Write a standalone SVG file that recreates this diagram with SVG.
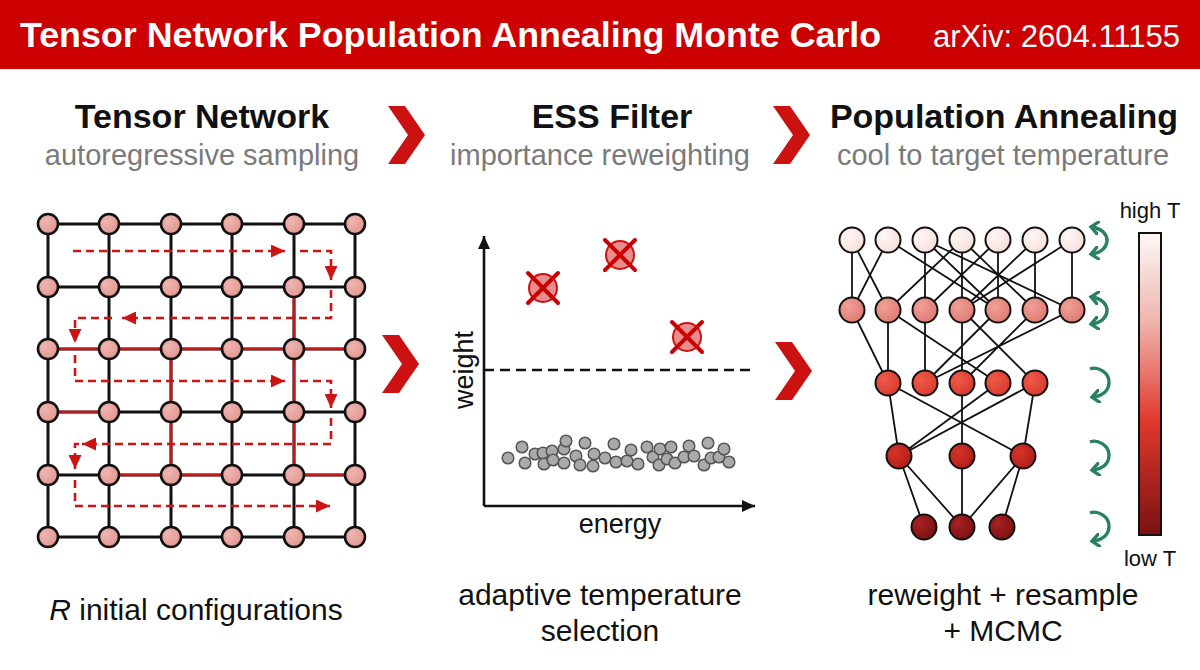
<svg xmlns="http://www.w3.org/2000/svg" width="1200" height="670" viewBox="0 0 1200 670">
<defs>
<style>
.title{font-family:"Liberation Sans",Arial,sans-serif;font-weight:bold;fill:#fff}
.arx{font-family:"Liberation Sans",Arial,sans-serif;fill:#fff}
.head{font-family:"Liberation Sans",Arial,sans-serif;font-weight:bold;fill:#111;font-size:34px;text-anchor:middle}
.sub{font-family:"Liberation Sans",Arial,sans-serif;fill:#7a7a7a;font-size:29px;text-anchor:middle}
.lbl{font-family:"Liberation Sans",Arial,sans-serif;fill:#111;font-size:30px;text-anchor:middle}
.ax{font-family:"Liberation Sans",Arial,sans-serif;fill:#111;font-size:27px;text-anchor:middle}
.ct{font-family:"Liberation Sans",Arial,sans-serif;fill:#111;font-size:22px;text-anchor:middle}
.gl{stroke:#111;stroke-width:3;fill:none}
.rl{stroke:#c41818;stroke-width:2.6;fill:none}
.gn{fill:url(#gnode);stroke:#111;stroke-width:2.6}
.dash{stroke:#cc1414;stroke-width:2.6;fill:none;stroke-dasharray:8 5;marker-end:url(#ra)}
.te{stroke:#111;stroke-width:1.8;fill:none}
.tn{stroke:#111;stroke-width:2}
.dot{fill:#aaa;stroke:#555;stroke-width:1.5}
.xc{fill:#e98d8d;stroke:#cc1111;stroke-width:2}
.xx{stroke:#cc0000;stroke-width:4;stroke-linecap:round}
.grn{stroke:#2a8062;stroke-width:3.4;fill:none}
.chev{fill:#cc1111}
</style>
<radialGradient id="gnode" cx="0.35" cy="0.35" r="0.7"><stop offset="0" stop-color="#f0b5b0"/><stop offset="1" stop-color="#e29790"/></radialGradient>
<radialGradient id="g0" cx="0.35" cy="0.35" r="0.7"><stop offset="0" stop-color="#fef7f5"/><stop offset="1" stop-color="#f6e0db"/></radialGradient>
<radialGradient id="g1" cx="0.35" cy="0.35" r="0.7"><stop offset="0" stop-color="#f0a098"/><stop offset="1" stop-color="#e07a72"/></radialGradient>
<radialGradient id="g2" cx="0.35" cy="0.35" r="0.7"><stop offset="0" stop-color="#ef5a48"/><stop offset="1" stop-color="#d93a2e"/></radialGradient>
<radialGradient id="g3" cx="0.35" cy="0.35" r="0.7"><stop offset="0" stop-color="#d43428"/><stop offset="1" stop-color="#b31d18"/></radialGradient>
<radialGradient id="g4" cx="0.35" cy="0.35" r="0.7"><stop offset="0" stop-color="#a82222"/><stop offset="1" stop-color="#7c1111"/></radialGradient>
<linearGradient id="cbar" x1="0" y1="0" x2="0" y2="1"><stop offset="0" stop-color="#fdf8f7"/><stop offset="0.3" stop-color="#eeb3ab"/><stop offset="0.62" stop-color="#e2392e"/><stop offset="1" stop-color="#791111"/></linearGradient>
<marker id="ra" markerUnits="userSpaceOnUse" markerWidth="15" markerHeight="13" refX="14" refY="6.5" orient="auto"><path d="M0,0 L14,6.5 L0,13 z" fill="#cc1414"/></marker>
<marker id="ka" markerUnits="userSpaceOnUse" markerWidth="14" markerHeight="12" refX="13" refY="6" orient="auto"><path d="M0,0 L13,6 L0,12 z" fill="#111"/></marker>
<marker id="ga" markerUnits="userSpaceOnUse" markerWidth="12" markerHeight="14" refX="7" refY="7" orient="auto-start-reverse"><path d="M0,0 L8,7 L0,14" fill="none" stroke="#2a8062" stroke-width="3.4"/></marker>
<path id="chv" d="M0,0 H17 L37,29 L17,58 H0 L20,29 Z"/>
</defs>
<rect width="1200" height="670" fill="#fff"/>
<g id="header">
<rect x="0" y="0" width="1200" height="69" fill="#cc0000"/>
<text class="title" x="20" y="47" font-size="35.8">Tensor Network Population Annealing Monte Carlo</text>
<text class="arx" x="1180" y="47" font-size="31" text-anchor="end">arXiv: 2604.11155</text>
</g>
<g id="headings">
<text class="head" x="202" y="128">Tensor Network</text>
<text class="sub" x="202" y="165">autoregressive sampling</text>
<text class="head" x="612" y="128">ESS Filter</text>
<text class="sub" x="600" y="165">importance reweighting</text>
<text class="head" x="1004" y="128">Population Annealing</text>
<text class="sub" x="1003" y="165">cool to target temperature</text>
<use href="#chv" class="chev" x="388" y="106"/>
<use href="#chv" class="chev" x="773" y="106"/>
<use href="#chv" class="chev" x="382" y="335"/>
<use href="#chv" class="chev" x="775" y="342"/>
</g>
<g id="connectors">
<g id="grid-lines">
<path class="gl" d="M48,224H355M48,287H355M48,349H355M48,412H355M48,475H355M48,537H355M48,224V537M109,224V537M171,224V537M232,224V537M294,224V537M355,224V537"/>
<path class="rl" d="M48,349H355M48,412H109M109,475H232M294,475H355M294,287V475M171,349V475"/>
</g>
<g id="sweep">
<path class="dash" d="M73,251H285"/>
<path class="dash" d="M300,251H331V280"/>
<path class="dash" d="M331,290V318H122"/>
<path class="dash" d="M112,318H75V343"/>
<path class="dash" d="M75,355V381H285"/>
<path class="dash" d="M300,381H331V408"/>
<path class="dash" d="M331,418V444H82"/>
<path class="dash" d="M79,444H75V469"/>
<path class="dash" d="M75,480V506H330"/>
</g>
<g id="axes">
<path d="M484,506V236" stroke="#111" stroke-width="2.6" fill="none" marker-end="url(#ka)"/>
<path d="M484,506H755" stroke="#111" stroke-width="2.6" fill="none" marker-end="url(#ka)"/>
<path d="M484,370H755" stroke="#111" stroke-width="2.6" fill="none" stroke-dasharray="10 6"/>
</g>
<g id="tree-edges">
<path class="te" d="M852,240L852,310M852,240L888,310M888,240L852,310M888,240L998,310M925,240L925,310M925,240L998,310M925,240L1072,310M962,240L888,310M962,240L962,310M962,240L1035,310M998,240L925,310M998,240L998,310M1035,240L962,310M1035,240L1035,310M1072,240L962,310M1072,240L1072,310"/>
<path class="te" d="M852,310L888,383M888,310L888,383M888,310L998,383M925,310L925,383M962,310L962,383M962,310L1035,383M998,310L925,383M1072,310L925,383M1035,310L962,383"/>
<path class="te" d="M888,383L899,456M888,383L1023,456M962,383L962,456M998,383L899,456M1035,383L899,456M1035,383L1023,456"/>
<path class="te" d="M899,456L924,527M899,456L962,527M962,456L962,527M1023,456L962,527M1023,456L1002,527"/>
</g>
<g id="mcmc-arrows">
<path class="grn" d="M1092,227C1112,230 1112,251 1092,254" marker-start="url(#ga)" marker-end="url(#ga)"/>
<path class="grn" d="M1092,297C1112,300 1112,321 1092,324" marker-start="url(#ga)" marker-end="url(#ga)"/>
<path class="grn" d="M1090,369C1097,366 1109,372 1109,382C1109,392 1101,396 1093,397" marker-end="url(#ga)"/>
<path class="grn" d="M1090,442C1097,439 1109,445 1109,455C1109,465 1101,469 1093,470" marker-end="url(#ga)"/>
<path class="grn" d="M1090,513C1097,510 1109,516 1109,526C1109,536 1101,540 1093,541" marker-end="url(#ga)"/>
</g>
</g>
<g id="grid-nodes">
<g id="n00"><circle class="gn" cx="48" cy="224" r="10"/></g><g id="n01"><circle class="gn" cx="109" cy="224" r="10"/></g><g id="n02"><circle class="gn" cx="171" cy="224" r="10"/></g><g id="n03"><circle class="gn" cx="232" cy="224" r="10"/></g><g id="n04"><circle class="gn" cx="294" cy="224" r="10"/></g><g id="n05"><circle class="gn" cx="355" cy="224" r="10"/></g>
<g id="n10"><circle class="gn" cx="48" cy="287" r="10"/></g><g id="n11"><circle class="gn" cx="109" cy="287" r="10"/></g><g id="n12"><circle class="gn" cx="171" cy="287" r="10"/></g><g id="n13"><circle class="gn" cx="232" cy="287" r="10"/></g><g id="n14"><circle class="gn" cx="294" cy="287" r="10"/></g><g id="n15"><circle class="gn" cx="355" cy="287" r="10"/></g>
<g id="n20"><circle class="gn" cx="48" cy="349" r="10"/></g><g id="n21"><circle class="gn" cx="109" cy="349" r="10"/></g><g id="n22"><circle class="gn" cx="171" cy="349" r="10"/></g><g id="n23"><circle class="gn" cx="232" cy="349" r="10"/></g><g id="n24"><circle class="gn" cx="294" cy="349" r="10"/></g><g id="n25"><circle class="gn" cx="355" cy="349" r="10"/></g>
<g id="n30"><circle class="gn" cx="48" cy="412" r="10"/></g><g id="n31"><circle class="gn" cx="109" cy="412" r="10"/></g><g id="n32"><circle class="gn" cx="171" cy="412" r="10"/></g><g id="n33"><circle class="gn" cx="232" cy="412" r="10"/></g><g id="n34"><circle class="gn" cx="294" cy="412" r="10"/></g><g id="n35"><circle class="gn" cx="355" cy="412" r="10"/></g>
<g id="n40"><circle class="gn" cx="48" cy="475" r="10"/></g><g id="n41"><circle class="gn" cx="109" cy="475" r="10"/></g><g id="n42"><circle class="gn" cx="171" cy="475" r="10"/></g><g id="n43"><circle class="gn" cx="232" cy="475" r="10"/></g><g id="n44"><circle class="gn" cx="294" cy="475" r="10"/></g><g id="n45"><circle class="gn" cx="355" cy="475" r="10"/></g>
<g id="n50"><circle class="gn" cx="48" cy="537" r="10"/></g><g id="n51"><circle class="gn" cx="109" cy="537" r="10"/></g><g id="n52"><circle class="gn" cx="171" cy="537" r="10"/></g><g id="n53"><circle class="gn" cx="232" cy="537" r="10"/></g><g id="n54"><circle class="gn" cx="294" cy="537" r="10"/></g><g id="n55"><circle class="gn" cx="355" cy="537" r="10"/></g>
</g>
<g id="ess-plot">
<text class="ax" font-size="28" transform="translate(473,370) rotate(-90)">weight</text>
<text class="ax" x="620" y="533">energy</text>
<g id="rejected-1"><circle class="xc" cx="543" cy="288" r="14"/><path class="xx" d="M528,273L558,303M558,273L528,303"/></g>
<g id="rejected-2"><circle class="xc" cx="620" cy="255" r="14"/><path class="xx" d="M605,240L635,270M635,240L605,270"/></g>
<g id="rejected-3"><circle class="xc" cx="687" cy="337" r="14"/><path class="xx" d="M672,322L702,352M702,322L672,352"/></g>
<g id="samples">
<circle class="dot" cx="508" cy="458" r="5.8"/><circle class="dot" cx="522" cy="447" r="5.8"/><circle class="dot" cx="525" cy="463" r="5.8"/><circle class="dot" cx="535" cy="454" r="5.8"/><circle class="dot" cx="543" cy="453" r="5.8"/><circle class="dot" cx="544" cy="464" r="5.8"/><circle class="dot" cx="552" cy="451" r="5.8"/><circle class="dot" cx="553" cy="460" r="5.8"/><circle class="dot" cx="564" cy="449" r="5.8"/><circle class="dot" cx="566" cy="441" r="5.8"/><circle class="dot" cx="564" cy="463" r="5.8"/><circle class="dot" cx="576" cy="456" r="5.8"/><circle class="dot" cx="580" cy="465" r="5.8"/><circle class="dot" cx="585" cy="443" r="5.8"/><circle class="dot" cx="594" cy="454" r="5.8"/><circle class="dot" cx="593" cy="466" r="5.8"/><circle class="dot" cx="605" cy="458" r="5.8"/><circle class="dot" cx="614" cy="444" r="5.8"/><circle class="dot" cx="616" cy="462" r="5.8"/><circle class="dot" cx="627" cy="461" r="5.8"/><circle class="dot" cx="631" cy="450" r="5.8"/><circle class="dot" cx="638" cy="464" r="5.8"/><circle class="dot" cx="647" cy="447" r="5.8"/><circle class="dot" cx="653" cy="457" r="5.8"/><circle class="dot" cx="660" cy="449" r="5.8"/><circle class="dot" cx="659" cy="465" r="5.8"/><circle class="dot" cx="667" cy="459" r="5.8"/><circle class="dot" cx="671" cy="447" r="5.8"/><circle class="dot" cx="675" cy="463" r="5.8"/><circle class="dot" cx="684" cy="457" r="5.8"/><circle class="dot" cx="689" cy="446" r="5.8"/><circle class="dot" cx="694" cy="456" r="5.8"/><circle class="dot" cx="704" cy="465" r="5.8"/><circle class="dot" cx="708" cy="443" r="5.8"/><circle class="dot" cx="711" cy="458" r="5.8"/><circle class="dot" cx="719" cy="457" r="5.8"/><circle class="dot" cx="724" cy="449" r="5.8"/><circle class="dot" cx="729" cy="462" r="5.8"/>
</g>
</g>
<g id="tree-nodes">
<g id="t00"><circle class="tn" fill="url(#g0)" cx="852" cy="240" r="12.5"/></g><g id="t01"><circle class="tn" fill="url(#g0)" cx="888" cy="240" r="12.5"/></g><g id="t02"><circle class="tn" fill="url(#g0)" cx="925" cy="240" r="12.5"/></g><g id="t03"><circle class="tn" fill="url(#g0)" cx="962" cy="240" r="12.5"/></g><g id="t04"><circle class="tn" fill="url(#g0)" cx="998" cy="240" r="12.5"/></g><g id="t05"><circle class="tn" fill="url(#g0)" cx="1035" cy="240" r="12.5"/></g><g id="t06"><circle class="tn" fill="url(#g0)" cx="1072" cy="240" r="12.5"/></g>
<g id="t10"><circle class="tn" fill="url(#g1)" cx="852" cy="310" r="12.5"/></g><g id="t11"><circle class="tn" fill="url(#g1)" cx="888" cy="310" r="12.5"/></g><g id="t12"><circle class="tn" fill="url(#g1)" cx="925" cy="310" r="12.5"/></g><g id="t13"><circle class="tn" fill="url(#g1)" cx="962" cy="310" r="12.5"/></g><g id="t14"><circle class="tn" fill="url(#g1)" cx="998" cy="310" r="12.5"/></g><g id="t15"><circle class="tn" fill="url(#g1)" cx="1035" cy="310" r="12.5"/></g><g id="t16"><circle class="tn" fill="url(#g1)" cx="1072" cy="310" r="12.5"/></g>
<g id="t20"><circle class="tn" fill="url(#g2)" cx="888" cy="383" r="12.5"/></g><g id="t21"><circle class="tn" fill="url(#g2)" cx="925" cy="383" r="12.5"/></g><g id="t22"><circle class="tn" fill="url(#g2)" cx="962" cy="383" r="12.5"/></g><g id="t23"><circle class="tn" fill="url(#g2)" cx="998" cy="383" r="12.5"/></g><g id="t24"><circle class="tn" fill="url(#g2)" cx="1035" cy="383" r="12.5"/></g>
<g id="t30"><circle class="tn" fill="url(#g3)" cx="899" cy="456" r="12.5"/></g><g id="t31"><circle class="tn" fill="url(#g3)" cx="962" cy="456" r="12.5"/></g><g id="t32"><circle class="tn" fill="url(#g3)" cx="1023" cy="456" r="12.5"/></g>
<g id="t40"><circle class="tn" fill="url(#g4)" cx="924" cy="527" r="12.5"/></g><g id="t41"><circle class="tn" fill="url(#g4)" cx="962" cy="527" r="12.5"/></g><g id="t42"><circle class="tn" fill="url(#g4)" cx="1002" cy="527" r="12.5"/></g>
</g>
<g id="colorbar">
<rect x="1139" y="233" width="22" height="302" fill="url(#cbar)" stroke="#111" stroke-width="2"/>
<text class="ct" x="1150" y="218">high T</text>
<text class="ct" x="1150" y="566">low T</text>
</g>
<g id="captions">
<text class="lbl" x="196" y="620"><tspan font-style="italic">R</tspan> initial configurations</text>
<text class="lbl" x="600" y="605">adaptive temperature</text>
<text class="lbl" x="600" y="641">selection</text>
<text class="lbl" x="1003" y="605">reweight + resample</text>
<text class="lbl" x="1003" y="641">+ MCMC</text>
</g>
</svg>
